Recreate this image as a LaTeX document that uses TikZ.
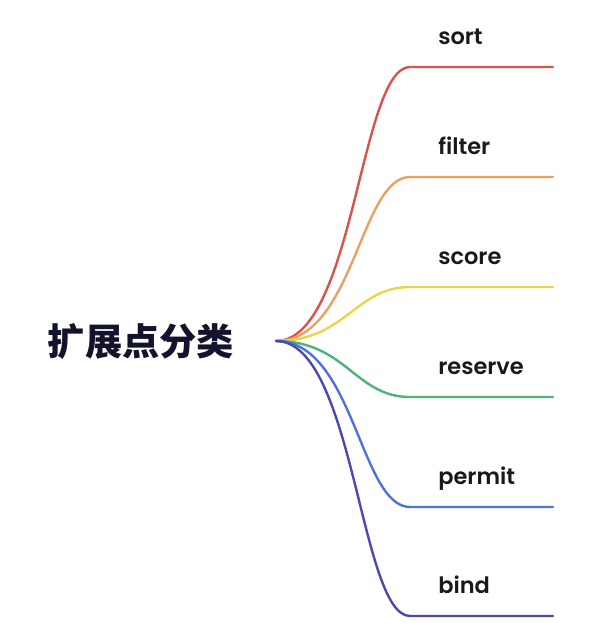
\documentclass[tikz,border=0pt]{standalone}
\usepackage{fontspec}
\setmainfont{Poppins}[BoldFont={Poppins SemiBold}]
\newfontfamily\cjk{Noto Sans CJK SC}
\definecolor{branchred}{HTML}{D9534A}
\definecolor{branchorange}{HTML}{E8A25E}
\definecolor{branchyellow}{HTML}{E9D54C}
\definecolor{branchgreen}{HTML}{4DB37A}
\definecolor{branchblue}{HTML}{5070E0}
\definecolor{branchindigo}{HTML}{4A4AAE}
\definecolor{roottext}{HTML}{13132E}
\begin{document}
\begin{tikzpicture}[x=0.025cm, y=-0.025cm,
  rootnode/.style={inner sep=0pt, text=roottext,
    font=\cjk\bfseries\fontsize{26.5}{30}\selectfont},
  leaflabel/.style={anchor=base west, inner sep=0pt, text=black!90,
    font=\bfseries\fontsize{16}{19}\selectfont},
  branch/.style={line width=1.7pt, line cap=round},
]
\useasboundingbox (0,0) rectangle (599,634);

% Horizontal positions
\def\xhub{276}
\def\xbend{410}
\def\xend{553}
\def\xlabel{438}

% Vertical positions of the branches
\def\ysort{67}
\def\yfilter{177}
\def\yscore{287}
\def\yreserve{397}
\def\ypermit{507}
\def\ybind{616}

% ============================================================
% Root
% ============================================================
\node[rootnode] (root) at (141, 341) {扩展点分类};
\coordinate (hub) at (\xhub, 341);

% ============================================================
% Leaf labels
% ============================================================
\node[leaflabel] (sort)    at (\xlabel, \ysort - 23)    {sort};
\node[leaflabel] (filter)  at (\xlabel, \yfilter - 23)  {filter};
\node[leaflabel] (score)   at (\xlabel, \yscore - 23)   {score};
\node[leaflabel] (reserve) at (\xlabel, \yreserve - 23) {reserve};
\node[leaflabel] (permit)  at (\xlabel, \ypermit - 23)  {permit};
\node[leaflabel] (bind)    at (\xlabel, \ybind - 23)    {bind};

% Bend and end points of each branch
\coordinate (sortbend)    at (\xbend, \ysort);
\coordinate (filterbend)  at (\xbend, \yfilter);
\coordinate (scorebend)   at (\xbend, \yscore);
\coordinate (reservebend) at (\xbend, \yreserve);
\coordinate (permitbend)  at (\xbend, \ypermit);
\coordinate (bindbend)    at (\xbend, \ybind);

\coordinate (sortend)    at (\xend, \ysort);
\coordinate (filterend)  at (\xend, \yfilter);
\coordinate (scoreend)   at (\xend, \yscore);
\coordinate (reserveend) at (\xend, \yreserve);
\coordinate (permitend)  at (\xend, \ypermit);
\coordinate (bindend)    at (\xend, \ybind);

% ============================================================
% Branches
% ============================================================
\draw[branch, branchred]    (hub) .. controls +(78,0) and +(-50,0) .. (sortbend) -- (sortend);
\draw[branch, branchorange] (hub) .. controls +(78,0) and +(-50,0) .. (filterbend) -- (filterend);
\draw[branch, branchyellow] (hub) .. controls +(70,0) and +(-55,0) .. (scorebend) -- (scoreend);
\draw[branch, branchgreen]  (hub) .. controls +(70,0) and +(-55,0) .. (reservebend) -- (reserveend);
\draw[branch, branchblue]   (hub) .. controls +(78,0) and +(-50,0) .. (permitbend) -- (permitend);
\draw[branch, branchindigo] (hub) .. controls +(78,0) and +(-50,0) .. (bindbend) -- (bindend);

\end{tikzpicture}
\end{document}
